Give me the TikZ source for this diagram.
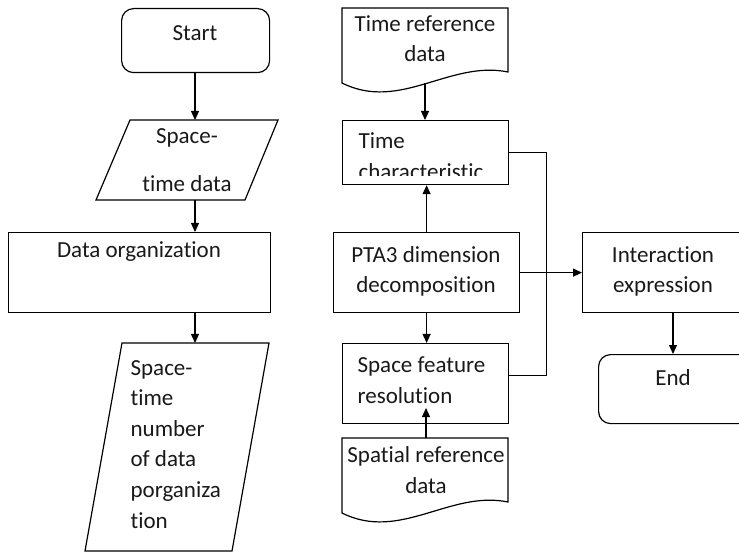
\documentclass[tikz,border=0pt]{standalone}
\usepackage{fontspec}
\setmainfont{Carlito}[Ligatures={NoCommon}]
\usetikzlibrary{arrows.meta}
\begin{document}
\begin{tikzpicture}[x=1pt,y=-1pt, line width=1.2pt,
  box/.style={draw, inner sep=0pt, anchor=north west},
  txt/.style={inner sep=0pt, font=\fontsize{23}{30.6}\selectfont, text=black!90},
  arr/.style={-{Triangle[length=9pt,width=8pt]}}]
\useasboundingbox (0,0) rectangle (739,553);
\clip (0,0) rectangle (739,553);
% left column
\node[box, rounded corners=12pt, minimum width=148pt, minimum height=64pt] (start) at (121,8) {};
\node[txt, anchor=base] (tstart) at (195,40.5) {Start};
\draw (130,120) -- (278,120) -- (245,200) -- (96,200) -- cycle;
\coordinate (p1t) at (195,120);
\coordinate (p1b) at (195,200);
\node[txt, anchor=base, align=center, font=\fontsize{23}{48.5}\selectfont] (tp1) at (187,192) {Space-\\time data};
\node[box, minimum width=262pt, minimum height=80pt] (org) at (8,232) {};
\node[txt, anchor=base] (torg) at (139,258) {Data organization};
\draw (122,343) -- (269,343) -- (232,551) -- (85,551) -- cycle;
\coordinate (p2t) at (195,343);
\node[txt, anchor=base west, align=left] (tp2) at (130,528) {Space-\\time\\number\\of data\\porganiza\\tion};
% middle column
\draw (342,8) -- (508,8) -- (508,72) .. controls (450,60) and (400,112) .. (342,83) -- cycle;
\coordinate (trb) at (425,83);
\node[txt, anchor=base, align=center] (ttr) at (425,62) {Time reference\\data};
\node[box, minimum width=166pt, minimum height=64pt] (tc) at (342,120) {};
\begin{scope}
\clip (342,120) rectangle (508,176);
\node[txt, anchor=base west, align=left] (ttc) at (358,179.6) {Time\\characteristic};
\end{scope}
\node[box, minimum width=186pt, minimum height=80pt] (pta) at (333,232) {};
\node[txt, anchor=base, align=center] (tpta) at (426,293) {PTA3 dimension\\decomposition};
\node[box, minimum width=166pt, minimum height=80pt] (sf) at (342,343) {};
\node[txt, anchor=base west, align=left] (tsf) at (357,403) {Space feature\\resolution};
\draw (342,438) -- (508,438) -- (508,502) .. controls (450,490) and (400,542) .. (342,513) -- cycle;
\coordinate (srt) at (426,438);
\coordinate (srend) at (426,408);
\node[txt, anchor=base, align=center] (tsr) at (426,493) {Spatial reference\\data};
% right column
\node[box, minimum width=180pt, minimum height=80pt] (inter) at (582,232) {};
\node[txt, anchor=base, align=center] (tinter) at (663,293) {Interaction\\expression};
\node[box, rounded corners=12pt, minimum width=160pt, minimum height=69pt] (end) at (598,354) {};
\node[txt, anchor=base] (tend) at (673,385) {End};
% connectors
\draw[arr] (start.south -| p1t) -- (p1t);
\draw[arr] (p1b) -- (p1b |- org.north);
\draw[arr] (org.south -| p2t) -- (p2t);
\draw[arr] (trb) -- (trb |- tc.north);
\draw[arr] (pta.north) -- (pta.north |- tc.south);
\draw[arr] (pta.south) -- (pta.south |- sf.north);
\draw[arr] (srt) -- (srend);
\draw[arr] (pta.east) -- (pta.east -| inter.west);
\coordinate (sfj) at ([yshift=8pt]sf.east);
\draw (tc.east) -- ++(37,0) |- (sfj);
\draw[arr] (inter.south -| tend) -- (end.north -| tend);
\end{tikzpicture}
\end{document}
